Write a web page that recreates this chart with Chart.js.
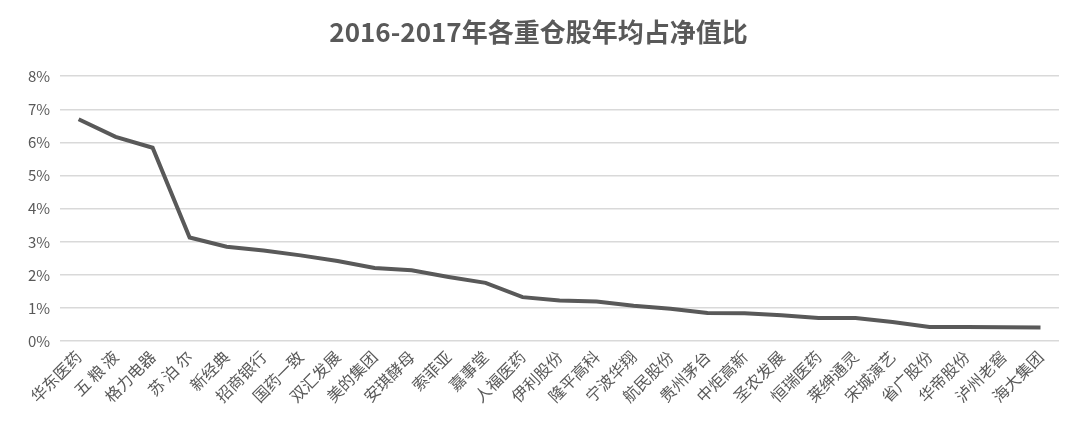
<!DOCTYPE html>
<html>
<head>
<meta charset="utf-8">
<script src="https://cdn.jsdelivr.net/npm/chart.js@4.4.1/dist/chart.umd.min.js"></script>
<style>
  html, body { margin: 0; padding: 0; background: #fff; }
  #wrap { width: 1080px; height: 436px; position: relative; }
</style>
</head>
<body>
<div id="wrap"><canvas id="c"></canvas></div>
<script>
// Stocks, ordered by average share of net asset value
const stocks = [
  '华东医药', '五 粮 液', '格力电器', '苏 泊 尔', '新经典', '招商银行', '国药一致',
  '双汇发展', '美的集团', '安琪酵母', '索菲亚', '嘉事堂', '人福医药', '伊利股份',
  '隆平高科', '宁波华翔', '航民股份', '贵州茅台', '中炬高新', '圣农发展', '恒瑞医药',
  '莱绅通灵', '宋城演艺', '省广股份', '华帝股份', '泸州老窖', '海大集团'
];

// Average % of net value
const sharePct = [
  6.70, 6.17, 5.84, 3.13, 2.85, 2.74, 2.59,
  2.42, 2.21, 2.14, 1.94, 1.76, 1.33, 1.23,
  1.20, 1.07, 0.98, 0.85, 0.84, 0.78, 0.70,
  0.70, 0.58, 0.43, 0.43, 0.42, 0.41
];

const yTicks = [0, 1, 2, 3, 4, 5, 6, 7, 8];

const TEXT = '#595959';
const GRID = '#d9d9d9';
const FONT = '"Noto Sans CJK SC", "Noto Sans", sans-serif';

new Chart(document.getElementById('c'), {
  type: 'line',
  data: {
    labels: stocks,
    datasets: [{
      data: sharePct,
      borderColor: '#595959',
      borderWidth: 4,
      pointRadius: 0,
      tension: 0,
      fill: false,
    }],
  },
  options: {
    responsive: true,
    maintainAspectRatio: false,
    animation: false,
    layout: { padding: { left: 18, right: 21, top: 12, bottom: 24 } },
    plugins: {
      legend: { display: false },
      tooltip: { enabled: false },
      title: {
        display: true,
        text: '2016-2017年各重仓股年均占净值比',
        color: TEXT,
        font: { family: FONT, size: 26, weight: 'bold' },
        padding: { top: 5, bottom: 28 },
      },
    },
    scales: {
      x: {
        offset: true,
        grid: { display: false, drawTicks: false },
        border: { display: false },
        ticks: {
          color: TEXT,
          font: { family: FONT, size: 16 },
          minRotation: 45,
          maxRotation: 45,
          autoSkip: false,
          padding: 6,
        },
      },
      y: {
        min: 0,
        max: 8,
        afterBuildTicks(axis) { axis.ticks = yTicks.map((v) => ({ value: v })); },
        grid: { color: GRID, lineWidth: 1.5, drawTicks: false },
        border: { display: false },
        ticks: {
          color: TEXT,
          font: { family: FONT, size: 15 },
          padding: 10,
          callback(value) { return value + '%'; },
        },
      },
    },
  },
});
</script>
</body>
</html>
